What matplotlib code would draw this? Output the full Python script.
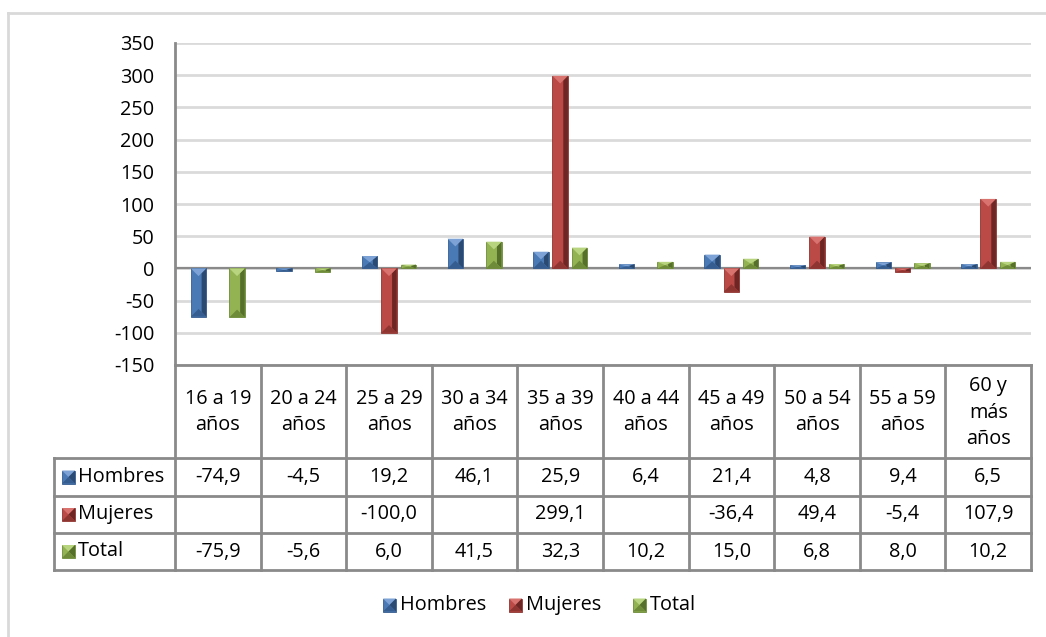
import numpy as np
import matplotlib.pyplot as plt
from matplotlib.patches import Polygon, Rectangle

plt.rcParams['font.family'] = ['Open Sans', 'DejaVu Sans']
plt.rcParams['font.size'] = 14.3

categorias = ['16 a 19\naños', '20 a 24\naños', '25 a 29\naños', '30 a 34\naños',
              '35 a 39\naños', '40 a 44\naños', '45 a 49\naños', '50 a 54\naños',
              '55 a 59\naños', '60 y\nmás\naños']
hombres = [-74.9, -4.5, 19.2, 46.1, 25.9, 6.4, 21.4, 4.8, 9.4, 6.5]
mujeres = [None, None, -100.0, None, 299.1, None, -36.4, 49.4, -5.4, 107.9]
total = [-75.9, -5.6, 6.0, 41.5, 32.3, 10.2, 15.0, 6.8, 8.0, 10.2]
series = ['Hombres', 'Mujeres', 'Total']
y_ticks = list(range(-150, 351, 50))

# light, base, dark, darker
paletas = {
    'Hombres': ('#7da3d6', '#4a7ab5', '#2b4a72', '#355d8f'),
    'Mujeres': ('#d8736f', '#bb4a47', '#6e2624', '#8e3431'),
    'Total': ('#b9d47f', '#93b353', '#56702b', '#6d8b38'),
}

W, H = 1046, 637
fig = plt.figure(figsize=(W / 100, H / 100), dpi=100)

L, R, T, B = 175, 1031, 43, 365
ax = fig.add_axes([L / W, 1 - B / H, (R - L) / W, (B - T) / H])
ax.set_xlim(-0.5, len(categorias) - 0.5)
ax.set_ylim(-150, 350)
ax.set_yticks(y_ticks)
ax.set_yticklabels([str(t) for t in y_ticks])
ax.set_xticks([])
ax.tick_params(axis='y', length=0, pad=15)
for s in ['top', 'right', 'bottom']:
    ax.spines[s].set_visible(False)
ax.spines['left'].set_color('#8a8a8a')
ax.spines['left'].set_linewidth(2)
ax.grid(axis='y', color='#dadada', linewidth=2)
ax.set_axisbelow(True)
ax.axhline(0, color='#8a8a8a', linewidth=1.6, zorder=2)

px_x = (R - L) / len(categorias)
px_y = (B - T) / 500.0


def bevel_bar(a, xc, w, v, pal, z=3):
    light, base, dark, darker = pal
    x0, x1 = xc - w / 2, xc + w / 2
    top, bot = max(0, v), min(0, v)
    d = min((w / 2) * px_x / px_y, (top - bot) / 2)
    a.add_patch(Rectangle((x0, bot), w, top - bot, facecolor=base,
                          edgecolor=darker, linewidth=0.6, zorder=z))
    a.add_patch(Polygon([(x1, top), (x1 - 0.3 * w, top - 0.6 * d),
                         (x1 - 0.3 * w, bot + 0.6 * d), (x1, bot)],
                        facecolor=dark, edgecolor='none', zorder=z + 0.1))
    a.add_patch(Polygon([(x0, top), (x1, top), (xc, top - d)],
                        facecolor=light, edgecolor='none', zorder=z + 0.2))
    a.add_patch(Polygon([(x0, bot), (x1, bot), (xc, bot + d)],
                        facecolor=darker, edgecolor='none', zorder=z + 0.2))


datos = {'Hombres': hombres, 'Mujeres': mujeres, 'Total': total}
offs = [-0.225, 0.0, 0.225]
bw = 0.18
for k, name in enumerate(series):
    for i, v in enumerate(datos[name]):
        if v is None:
            continue
        bevel_bar(ax, i + offs[k], bw, v, paletas[name])

# overlay in pixel coordinates for table, legend and frame
ov = fig.add_axes([0, 0, 1, 1])
ov.set_xlim(0, W)
ov.set_ylim(H, 0)
ov.axis('off')

grid_c = '#8a8a8a'
ov.plot([8, W], [13, 13], color='#d9d9d9', lw=2)
ov.plot([8, 8], [13, H], color='#d9d9d9', lw=2)

edges = [L + px_x * i for i in range(len(categorias) + 1)]
rows = [365, 458, 496, 533, 570]
leg_l = 54

ov.plot([L, R], [rows[0], rows[0]], color=grid_c, lw=2)
for yv in rows[1:]:
    ov.plot([leg_l, R], [yv, yv], color=grid_c, lw=2)
for xv in edges:
    ov.plot([xv, xv], [rows[0], rows[-1]], color=grid_c, lw=2)
ov.plot([leg_l, leg_l], [rows[1], rows[-1]], color=grid_c, lw=2)

for i, c in enumerate(categorias):
    xc = (edges[i] + edges[i + 1]) / 2
    ov.text(xc, (rows[0] + rows[1]) / 2 + 1, c, ha='center', va='center',
            linespacing=1.4)


def fmt(v):
    return '' if v is None else f'{v:.1f}'.replace('.', ',')


def marker(x, yc, pal, s=13):
    light, base, dark, darker = pal
    y0, y1 = yc - s / 2, yc + s / 2
    ov.add_patch(Rectangle((x, y0), s, s, facecolor=base, edgecolor=darker, lw=0.6))
    ov.add_patch(Polygon([(x, y0), (x + s, y0), (x + s / 2, yc)], facecolor=light, edgecolor='none'))
    ov.add_patch(Polygon([(x + s, y0), (x + s, y1), (x + s / 2, yc)], facecolor=dark, edgecolor='none'))
    ov.add_patch(Polygon([(x, y1), (x + s, y1), (x + s / 2, yc)], facecolor=darker, edgecolor='none'))


for r, name in enumerate(series):
    yc = (rows[r + 1] + rows[r + 2]) / 2
    marker(62, yc, paletas[name])
    ov.text(78, yc, name, ha='left', va='center')
    for i, v in enumerate(datos[name]):
        xc = (edges[i] + edges[i + 1]) / 2
        ov.text(xc, yc, fmt(v), ha='center', va='center')

leg_x = [383, 509, 633]
for name, lx in zip(series, leg_x):
    marker(lx, 605, paletas[name])
    ov.text(lx + 17, 605, name, ha='left', va='center')

fig.savefig('out.png', dpi=100)
